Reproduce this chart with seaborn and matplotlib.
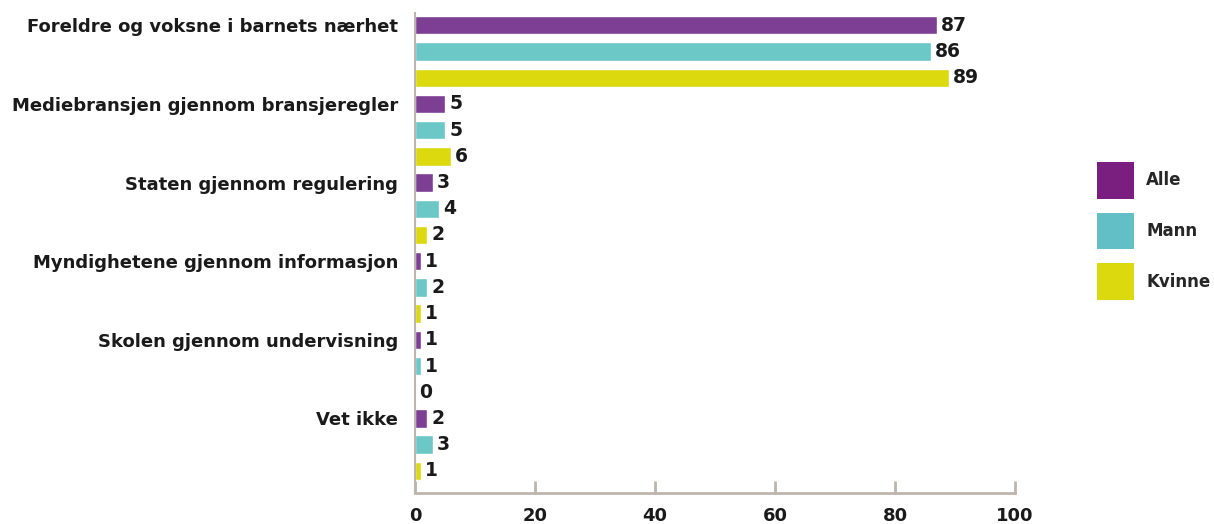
import pandas as pd
import numpy as np
import seaborn as sns
import matplotlib.pyplot as plt
from matplotlib.patches import Patch

# Data
kategorier = [
    "Foreldre og voksne i barnets nærhet",
    "Mediebransjen gjennom bransjeregler",
    "Staten gjennom regulering",
    "Myndighetene gjennom informasjon",
    "Skolen gjennom undervisning",
    "Vet ikke",
]
grupper = ["Alle", "Mann", "Kvinne"]
alle = [87, 5, 3, 1, 1, 2]
mann = [86, 5, 4, 2, 1, 3]
kvinne = [89, 6, 2, 1, 0, 1]
x_ticks = [0, 20, 40, 60, 80, 100]

bar_farger = ["#7C3F94", "#6CC7C7", "#DDD90F"]
legend_farger = ["#7A1F80", "#62BFC6", "#DDD90F"]
grå = "#BDB6AE"
tekst = "#1a1a1a"

rows = []
for navn, verdier in zip(grupper, [alle, mann, kvinne]):
    for kat, v in zip(kategorier, verdier):
        rows.append({"kategori": kat, "gruppe": navn, "prosent": v})
df = pd.DataFrame(rows)

sns.set_style("white")
plt.rcParams["font.family"] = ["DejaVu Sans"]

fig = plt.figure(figsize=(12.14, 5.24), dpi=100)
ax = fig.add_axes([415 / 1214, 31 / 524, 600 / 1214, 480 / 524])

sns.barplot(data=df, y="kategori", x="prosent", hue="gruppe", orient="h",
            palette=bar_farger, order=kategorier, hue_order=grupper,
            width=1.0, gap=0.3, dodge=True, errorbar=None, saturation=1,
            ax=ax, legend=False)

# value labels
for cont in ax.containers:
    ax.bar_label(cont, fmt="%d", padding=3, fontsize=13.5, fontweight="bold",
                 color=tekst)

# category labels sit at the first bar (Alle) in each group
ax.set_yticks(np.arange(len(kategorier)) - 1 / 3)
ax.set_yticklabels(kategorier, fontsize=13, fontweight="bold", color=tekst)
ax.tick_params(axis="y", length=0, pad=12)

ax.set_xlim(0, 100)
ax.set_ylim(5.615, -0.49)
ax.set_xticks(x_ticks)
ax.set_xticklabels([str(t) for t in x_ticks], fontsize=13, fontweight="bold",
                   color=tekst)
ax.tick_params(axis="x", bottom=True, direction="in", length=9, width=2,
               color=grå, pad=10)
ax.set_xlabel("")
ax.set_ylabel("")

for side in ["top", "right"]:
    ax.spines[side].set_visible(False)
ax.spines["bottom"].set_color(grå)
ax.spines["bottom"].set_linewidth(2)
ax.spines["left"].set_color(grå)
ax.spines["left"].set_linewidth(1.5)

handles = [Patch(facecolor=c, edgecolor="none") for c in legend_farger]
fig.legend(handles, grupper, loc="center left",
           bbox_to_anchor=(1097 / 1214, 1 - 231 / 524), frameon=False,
           handlelength=2.2, handleheight=3.0, labelspacing=0.85,
           handletextpad=0.75, borderpad=0, borderaxespad=0,
           prop={"size": 12, "weight": "bold"})

fig.savefig("out.png", dpi=100)
